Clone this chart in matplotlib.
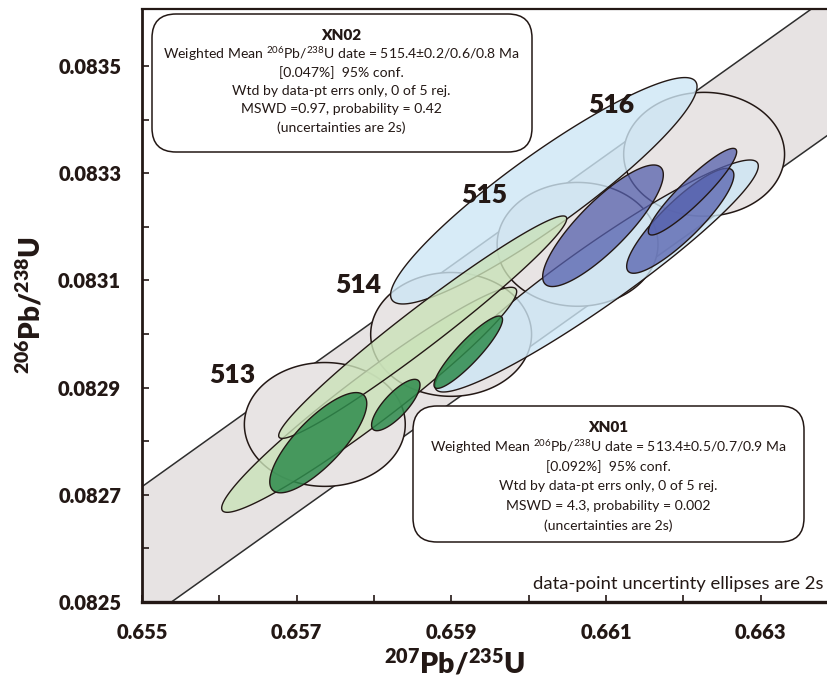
import numpy as np
import matplotlib
matplotlib.use("Agg")
import matplotlib.pyplot as plt
from matplotlib.patches import Polygon, FancyBboxPatch
from matplotlib.transforms import IdentityTransform

plt.rcParams['font.family'] = ['Lato', 'DejaVu Sans']
plt.rcParams['mathtext.fontset'] = 'custom'
plt.rcParams['mathtext.rm'] = 'Lato'
plt.rcParams['mathtext.bf'] = 'Lato:bold'
plt.rcParams['mathtext.default'] = 'regular'

INK = '#231815'

# U decay constants (1/yr) and relative 2s uncertainty on lambda-235
LAMBDA_238 = 1.55125e-10
LAMBDA_235 = 9.8485e-10
LAMBDA_235_ERR = 0.00148

# Concordia age markers (Ma) and their half-extents
concordia_ages = [513, 514, 515, 516]
marker_half_x = 0.00104
marker_half_y = 0.0001155

# XN01: 207Pb/235U, 2s, 206Pb/238U, 2s, rho
xn01_x = [0.657937, 0.658629, 0.657279, 0.658281, 0.659218]
xn01_x_err = [0.001907, 0.001862, 0.000627, 0.000313, 0.000443]
xn01_y = [0.0828772, 0.0830127, 0.0827972, 0.0828675, 0.0829660]
xn01_y_err = [0.0002099, 0.0002075, 0.0000935, 0.0000479, 0.0000675]
xn01_rho = [0.962, 0.975, 0.78, 0.78, 0.90]

# XN02
xn02_x = [0.660195, 0.660878, 0.660960, 0.661959, 0.662117]
xn02_x_err = [0.001981, 0.002090, 0.000780, 0.000693, 0.000571]
xn02_y = [0.0832672, 0.0831082, 0.0832019, 0.0832112, 0.0832655]
xn02_y_err = [0.0002112, 0.0002164, 0.0001134, 0.0000979, 0.0000808]
xn02_rho = [0.92, 0.948, 0.84, 0.87, 0.92]

x_ticks = [0.655, 0.656, 0.657, 0.658, 0.659, 0.660, 0.661, 0.662, 0.663]
x_ticklabels = ['0.655', '', '0.657', '', '0.659', '', '0.661', '', '0.663']
y_ticks = [0.0825, 0.0826, 0.0827, 0.0828, 0.0829, 0.0830, 0.0831, 0.0832,
           0.0833, 0.0834, 0.0835]
y_ticklabels = ['0.0825', '', '0.0827', '', '0.0829', '', '0.0831', '',
                '0.0833', '', '0.0835']

xn02_lines = ['Weighted Mean $^{206}$Pb/$^{238}$U date = 515.4\u00b10.2/0.6/0.8 Ma',
              '[0.047%]  95% conf.',
              'Wtd by data-pt errs only, 0 of 5 rej.',
              'MSWD =0.97, probability = 0.42',
              '(uncertainties are 2s)']
xn01_lines = ['Weighted Mean $^{206}$Pb/$^{238}$U date = 513.4\u00b10.5/0.7/0.9 Ma',
              '[0.092%]  95% conf.',
              'Wtd by data-pt errs only, 0 of 5 rej.',
              'MSWD = 4.3, probability = 0.002',
              '(uncertainties are 2s)']

W, H = 828, 679
fig = plt.figure(figsize=(W / 100, H / 100), dpi=100)
ax = fig.add_axes([142 / W, 77 / H, 686 / W, 593 / H])
ax.set_xlim(0.655, 0.663869)
ax.set_ylim(0.0825, 0.0836063)


def concordia(t, f=1.0):
    return np.exp(LAMBDA_235 * f * t) - 1, np.exp(LAMBDA_238 * t) - 1


def ellipse(x, sx, y, sy, rho, n=240):
    th = np.linspace(0, 2 * np.pi, n)
    ex = x + sx * np.cos(th)
    ey = y + sy * (rho * np.cos(th) + np.sqrt(1 - rho ** 2) * np.sin(th))
    return np.column_stack([ex, ey])


# concordia band with lambda-235 uncertainty
t = np.linspace(500e6, 530e6, 600)
xu, yu = concordia(t, 1 - LAMBDA_235_ERR)
xl, yl = concordia(t, 1 + LAMBDA_235_ERR)
band = np.column_stack([np.r_[xu, xl[::-1]], np.r_[yu, yl[::-1]]])
ax.add_patch(Polygon(band, closed=True, fc='#e7e3e3', ec='none', zorder=1))
ax.plot(xu, yu, color='#2e2e2e', lw=1.1, zorder=1.5)
ax.plot(xl, yl, color='#2e2e2e', lw=1.1, zorder=1.5)

# age markers on concordia
for age in concordia_ages:
    cx, cy = concordia(age * 1e6)
    ax.add_patch(Polygon(ellipse(cx, marker_half_x, cy, marker_half_y, 0.0),
                         closed=True, fc='#e8e4e4', ec=INK, lw=1.1, zorder=2))
    ax.annotate(str(age), xy=(cx, cy), xytext=(-93, 49), textcoords='offset pixels',
                ha='center', va='center', fontsize=19, fontweight='heavy', color=INK,
                zorder=6)

samples = [
    (xn02_x, xn02_x_err, xn02_y, xn02_y_err, xn02_rho, '#cde6f5', '#5560ad'),
    (xn01_x, xn01_x_err, xn01_y, xn01_y_err, xn01_rho, '#cae2b9', '#2e8b4c'),
]

# imprecise analyses first (light), then precise analyses (dark) on top
z = 3
for xs, xe, ys, ye, rh, light, dark in samples:
    for x, sx, y, sy, r in zip(xs, xe, ys, ye, rh):
        if sx > 0.001:
            ax.add_patch(Polygon(ellipse(x, sx, y, sy, r), closed=True, fc=light,
                                 alpha=0.8, ec='none', zorder=z))
            ax.add_patch(Polygon(ellipse(x, sx, y, sy, r), closed=True, fill=False,
                                 ec=INK, lw=1.0, zorder=z))
            z += 0.01
for xs, xe, ys, ye, rh, light, dark in samples[::-1]:
    for x, sx, y, sy, r in zip(xs, xe, ys, ye, rh):
        if sx <= 0.001:
            alpha = 0.85 if dark == '#2e8b4c' else 0.75
            ax.add_patch(Polygon(ellipse(x, sx, y, sy, r), closed=True, fc=dark,
                                 alpha=alpha, ec='none', zorder=z))
            ax.add_patch(Polygon(ellipse(x, sx, y, sy, r), closed=True, fill=False,
                                 ec=INK, lw=1.0, zorder=z))
            z += 0.01

# axes styling
ax.set_xticks(x_ticks)
ax.set_xticklabels(x_ticklabels)
ax.set_yticks(y_ticks)
ax.set_yticklabels(y_ticklabels)
ax.tick_params(axis='both', direction='in', length=5, width=1.2, color=INK,
               labelsize=14.5, labelcolor=INK)
ax.tick_params(axis='x', pad=15)
ax.tick_params(axis='y', pad=15)
for lab in ax.get_xticklabels() + ax.get_yticklabels():
    lab.set_fontweight('heavy')
for side, lw in [('left', 2.0), ('bottom', 2.4), ('top', 1.6)]:
    ax.spines[side].set_linewidth(lw)
    ax.spines[side].set_color(INK)
ax.spines['right'].set_visible(False)

fig.text(455 / W, 1 - 663 / H, '$^{207}$Pb/$^{235}$U', ha='center', va='center',
         fontsize=20.5, fontweight='heavy', color=INK)
fig.text(30 / W, 1 - 305 / H, '$^{206}$Pb/$^{238}$U', ha='center', va='center',
         rotation=90, fontsize=20, fontweight='heavy', color=INK)

ax.text(0.993, 0.03, 'data-point uncertinty ellipses are 2s', transform=ax.transAxes,
        ha='right', va='center', fontsize=13.3, color=INK, zorder=10)


def result_box(x0, y0, x1, y1, title, lines, cx, ty, dy):
    box = FancyBboxPatch((x0, H - y1), x1 - x0, y1 - y0,
                         boxstyle='round,pad=0,rounding_size=24',
                         transform=IdentityTransform(), fc='white', ec=INK, lw=1.1,
                         zorder=5)
    fig.add_artist(box)
    fig.text(cx / W, 1 - ty / H, title, ha='center', va='center', fontsize=11,
             fontweight='heavy', color=INK, zorder=6)
    for i, line in enumerate(lines):
        fig.text(cx / W, 1 - (ty + dy * (i + 1)) / H, line, ha='center', va='center',
                 fontsize=10.1, color=INK, zorder=6)


result_box(152, 14, 532, 152, 'XN02', xn02_lines, 341, 35, 18.6)
result_box(413, 406, 804, 542, 'XN01', xn01_lines, 608, 428, 19.5)

fig.savefig('out.png', dpi=100)
